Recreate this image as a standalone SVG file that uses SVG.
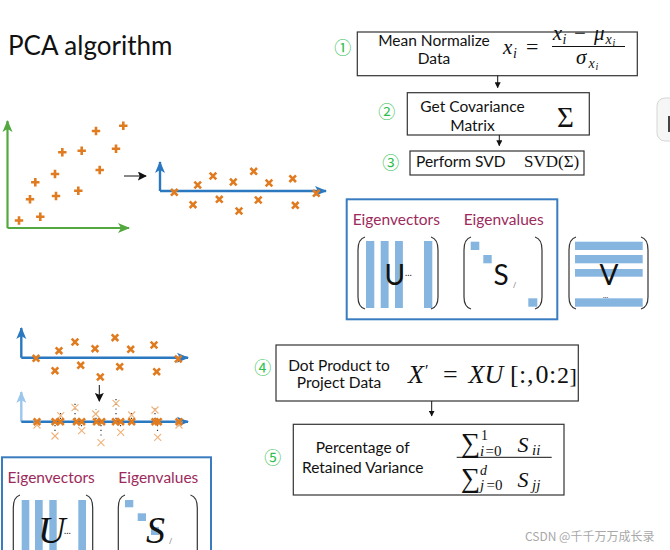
<svg xmlns="http://www.w3.org/2000/svg" xmlns:xlink="http://www.w3.org/1999/xlink" width="670" height="550" viewBox="0 0 670 550">
<style>
.lbl{font-family:Lato,"Open Sans","Liberation Sans",sans-serif;fill:#111;font-size:15.5px}
.eig{font-family:Lato,"Open Sans","Liberation Sans",sans-serif;fill:#9c2a5c;font-size:15.5px;text-anchor:middle}
.num{font-family:"Noto Sans CJK SC","DejaVu Sans",sans-serif;fill:#2fbf4f;font-size:17px;text-anchor:middle}
.m{font-family:"Liberation Serif","DejaVu Serif",serif;fill:#111}
.mi{font-family:"Liberation Serif","DejaVu Serif",serif;font-style:italic;fill:#111}
.box{fill:#fff;stroke:#333;stroke-width:1.2}
.bbox{fill:none;stroke:#3a7cc0;stroke-width:2}
.br{fill:none;stroke:#333;stroke-width:1.2}
.bar{fill:#86b5e0}
.conn{stroke:#111;stroke-width:1;fill:none}
.gax{stroke:#53a840;stroke-width:2.2;fill:none}
.bax{stroke:#2a78c0;stroke-width:2.4;fill:none}
.lax{stroke:#9cc6ec;stroke-width:2.4;fill:none}
.dot{stroke:#333;stroke-width:1.2;stroke-dasharray:1.2 3.5;fill:none}
</style>
<defs>
<marker id="ag" viewBox="0 0 12 12" markerWidth="12" markerHeight="12" refX="11" refY="6" orient="auto" markerUnits="userSpaceOnUse"><path d="M0,1 L12,6 L0,11 L3,6 z" fill="#53a840"/></marker>
<marker id="ab" viewBox="0 0 12 12" markerWidth="12" markerHeight="12" refX="11" refY="6" orient="auto" markerUnits="userSpaceOnUse"><path d="M0,1 L12,6 L0,11 L3,6 z" fill="#2a78c0"/></marker>
<marker id="al" viewBox="0 0 12 12" markerWidth="12" markerHeight="12" refX="11" refY="6" orient="auto" markerUnits="userSpaceOnUse"><path d="M0,1 L12,6 L0,11 L3,6 z" fill="#9cc6ec"/></marker>
<marker id="ak" viewBox="0 0 10 10" markerWidth="6" markerHeight="6" refX="9" refY="5" orient="auto" markerUnits="userSpaceOnUse"><path d="M0,0 L10,5 L0,10 z" fill="#111"/></marker>
<marker id="akb" viewBox="0 0 10 10" markerWidth="9" markerHeight="9" refX="9" refY="5" orient="auto" markerUnits="userSpaceOnUse"><path d="M0,0 L10,5 L0,10 L2,5 z" fill="#111"/></marker>
<path id="p" d="M-4.2 0H4.2M0-4.2V4.2" stroke="#e07b20" stroke-width="2.6"/>
<path id="x" d="M-3.3-3.3L3.3 3.3M-3.3 3.3L3.3-3.3" stroke="#e07b20" stroke-width="2.6"/>
<path id="xf" d="M-3.5-3.5L3.5 3.5M-3.5 3.5L3.5-3.5" stroke="#f0b27a" stroke-width="1.1"/>
</defs>

<rect width="670" height="550" fill="#fff"/>

<g id="title"><text class="lbl" x="8" y="55" style="font-size:26px">PCA algorithm</text></g>

<g id="ui-tab">
<rect x="657" y="98" width="30" height="43" rx="8" fill="#f6f6f6" stroke="#d6d6d6"/>
<rect x="668" y="116" width="2" height="16" fill="#444"/>
</g>

<g id="plot-original">
<path class="gax" d="M7.5 228V121" marker-end="url(#ag)"/>
<path class="gax" d="M7.5 228H129" marker-end="url(#ag)"/>
<use xlink:href="#p" x="19" y="220.5"/><use xlink:href="#p" x="40.3" y="216.7"/>
<use xlink:href="#p" x="30" y="199.3"/><use xlink:href="#p" x="56" y="196"/>
<use xlink:href="#p" x="78.3" y="190.7"/><use xlink:href="#p" x="35.3" y="182.3"/>
<use xlink:href="#p" x="55" y="174"/><use xlink:href="#p" x="99.7" y="170"/>
<use xlink:href="#p" x="62.3" y="152.3"/><use xlink:href="#p" x="81.7" y="150.7"/>
<use xlink:href="#p" x="116" y="148.7"/><use xlink:href="#p" x="96" y="131"/>
<use xlink:href="#p" x="123.3" y="125.7"/>
</g>

<g id="plot-normalized">
<path class="bax" d="M160 191V162" marker-end="url(#ab)"/>
<path class="bax" d="M160 191H326" marker-end="url(#ab)"/>
<use xlink:href="#x" x="174.3" y="192.3"/><use xlink:href="#x" x="197.7" y="185"/>
<use xlink:href="#x" x="213" y="176"/><use xlink:href="#x" x="233.3" y="182"/>
<use xlink:href="#x" x="253.7" y="171.3"/><use xlink:href="#x" x="269" y="183"/>
<use xlink:href="#x" x="292.7" y="178.7"/><use xlink:href="#x" x="316.3" y="193.3"/>
<use xlink:href="#x" x="193" y="204.7"/><use xlink:href="#x" x="219.3" y="199.3"/>
<use xlink:href="#x" x="239" y="211"/><use xlink:href="#x" x="258.3" y="200"/>
<use xlink:href="#x" x="295.3" y="205.3"/>
</g>

<g id="plot-before-projection">
<path class="bax" d="M21.3 357.7V328" marker-end="url(#ab)"/>
<path class="bax" d="M21.3 357.7H188" marker-end="url(#ab)"/>
<use xlink:href="#x" x="36" y="358.3"/><use xlink:href="#x" x="59" y="350.7"/>
<use xlink:href="#x" x="75" y="342"/><use xlink:href="#x" x="95" y="348.7"/>
<use xlink:href="#x" x="115" y="337.7"/><use xlink:href="#x" x="130.7" y="349.3"/>
<use xlink:href="#x" x="154" y="345"/><use xlink:href="#x" x="178.3" y="359"/>
<use xlink:href="#x" x="55" y="370.7"/><use xlink:href="#x" x="80.7" y="365.3"/>
<use xlink:href="#x" x="100.3" y="377"/><use xlink:href="#x" x="119.7" y="366.7"/>
<use xlink:href="#x" x="156.7" y="371.7"/>
</g>

<g id="plot-projected">
<path class="lax" d="M21.3 421.7V392" marker-end="url(#al)"/>
<path class="bax" d="M21.3 421.7H188" marker-end="url(#ab)"/>
<path class="dot" d="M60.5 419V411M75 419V403M96 419V409M116 419V398M131.5 419V411M155 419V405M55 425V432M81.5 425V427M101 425V439M120.5 425V428M157.5 425V433"/>
<use xlink:href="#xf" x="60.7" y="415.7"/><use xlink:href="#xf" x="75" y="407.7"/>
<use xlink:href="#xf" x="95.7" y="414"/><use xlink:href="#xf" x="116" y="403.3"/>
<use xlink:href="#xf" x="131.7" y="415"/><use xlink:href="#xf" x="155" y="410"/>
<use xlink:href="#xf" x="55" y="436"/><use xlink:href="#xf" x="81.7" y="430.7"/>
<use xlink:href="#xf" x="101" y="442.7"/><use xlink:href="#xf" x="120.7" y="432.3"/>
<use xlink:href="#xf" x="157.7" y="437.3"/><use xlink:href="#xf" x="37" y="425"/><use xlink:href="#xf" x="179" y="425"/>
<use xlink:href="#x" x="37" y="421.7"/><use xlink:href="#x" x="55" y="421.7"/>
<use xlink:href="#x" x="60.5" y="421.7"/><use xlink:href="#x" x="76.5" y="421.7"/>
<use xlink:href="#x" x="81.7" y="421.7"/><use xlink:href="#x" x="96.5" y="421.7"/>
<use xlink:href="#x" x="101.7" y="421.7"/><use xlink:href="#x" x="115.5" y="421.7"/>
<use xlink:href="#x" x="120.7" y="421.7"/><use xlink:href="#x" x="131.7" y="421.7"/>
<use xlink:href="#x" x="155" y="421.7"/><use xlink:href="#x" x="158.3" y="421.7"/>
<use xlink:href="#x" x="179" y="421.7"/>
</g>

<g id="step1">
<text class="num" x="342.7" y="54">①</text>
<rect class="box" x="357.3" y="32" width="280" height="43.7"/>
<text class="lbl" x="434" y="46" text-anchor="middle">Mean Normalize</text>
<text class="lbl" x="434" y="64" text-anchor="middle">Data</text>
<text class="mi" x="503" y="54" font-size="21">x</text>
<text class="mi" x="513" y="58" font-size="14">i</text>
<text class="m" x="526" y="54" font-size="22">=</text>
<text class="mi" x="552.7" y="40" font-size="21">x</text>
<text class="mi" x="562.5" y="44" font-size="14">i</text>
<text class="m" x="574" y="40" font-size="21">−</text>
<text class="mi" x="594" y="40" font-size="21">μ</text>
<text class="mi" x="605.5" y="43.5" font-size="14">x</text>
<text class="mi" x="612.5" y="46" font-size="10">i</text>
<path d="M552 46.5H625" stroke="#111" stroke-width="1"/>
<text class="mi" x="576" y="64" font-size="21">σ</text>
<text class="mi" x="588.5" y="67.5" font-size="14">x</text>
<text class="mi" x="595.5" y="70" font-size="10">i</text>
</g>

<g id="step2">
<text class="num" x="386.7" y="118">②</text>
<rect class="box" x="407.3" y="92.7" width="182" height="42.3"/>
<text class="lbl" x="472.5" y="112.3" text-anchor="middle">Get Covariance</text>
<text class="lbl" x="472.5" y="131" text-anchor="middle">Matrix</text>
<text class="m" x="557" y="126.7" font-size="29">Σ</text>
</g>

<g id="step3">
<text class="num" x="390.7" y="169">③</text>
<rect class="box" x="410" y="151" width="174" height="24"/>
<text class="lbl" x="416" y="167">Perform SVD</text>
<text class="m" x="524" y="166.7" font-size="17">SVD(Σ)</text>
</g>

<g id="svd-result">
<rect class="bbox" x="346.7" y="199.3" width="210.6" height="120"/>
<text class="eig" x="396.3" y="225.3">Eigenvectors</text>
<text class="eig" x="503.7" y="225.3">Eigenvalues</text>
<path class="br" d="M365 237Q358 239 358 250V297Q358 307 365 309M431 237Q438 239 438 250V297Q438 307 431 309"/>
<rect class="bar" x="366" y="241" width="8.3" height="67"/>
<rect class="bar" x="380.7" y="241" width="7.9" height="67"/>
<rect class="bar" x="395" y="241" width="7.9" height="67"/>
<rect class="bar" x="424" y="241" width="8.3" height="67"/>
<text class="lbl" x="384.5" y="285" style="font-size:28px">U</text>
<text class="lbl" x="405" y="276" style="font-size:9px">…</text>
<path class="br" d="M471 237Q464 239 464 250V297Q464 307 471 309M535 237Q542 239 542 250V297Q542 307 535 309"/>
<rect class="bar" x="470.7" y="241.7" width="8.6" height="8.3"/>
<rect class="bar" x="483.3" y="255" width="8.4" height="8.3"/>
<rect class="bar" x="528.3" y="298.3" width="9" height="8.4"/>
<text class="lbl" x="493.5" y="285" style="font-size:28px">S</text>
<text class="lbl" x="513" y="288" style="font-size:7px;fill:#555">/</text>
<path class="br" d="M576 237Q569 239 569 250V297Q569 307 576 309M641 237Q648 239 648 250V297Q648 307 641 309"/>
<rect class="bar" x="575" y="241.7" width="67.7" height="8.3"/>
<rect class="bar" x="575" y="255" width="67.7" height="8.3"/>
<rect class="bar" x="575" y="269" width="67.7" height="7.7"/>
<rect class="bar" x="575" y="298.3" width="67.7" height="8.4"/>
<text class="lbl" x="599.5" y="285" style="font-size:28px">V</text>
<text class="lbl" x="603" y="298" style="font-size:7px">…</text>
</g>

<g id="step4">
<text class="num" x="262.7" y="374">④</text>
<rect class="box" x="276" y="345" width="302.3" height="56"/>
<text class="lbl" x="339" y="370.7" text-anchor="middle">Dot Product to</text>
<text class="lbl" x="339" y="388.3" text-anchor="middle">Project Data</text>
<text class="mi" x="408" y="383.3" font-size="26">X</text>
<text class="m" x="425" y="376" font-size="16">′</text>
<text class="m" x="443" y="383.3" font-size="26">=</text>
<text class="mi" x="468.5" y="383.3" font-size="26">XU</text>
<text class="m" x="510" y="383.3" font-size="26">[</text>
<text class="m" x="519" y="383.3" font-size="26">:</text>
<text class="m" x="527" y="383.3" font-size="26">,</text>
<text class="m" x="535.5" y="383.3" font-size="26">0</text>
<text class="m" x="549" y="383.3" font-size="26">:</text>
<text class="m" x="557" y="383.3" font-size="24">2</text>
<text class="m" x="569.5" y="383.3" font-size="22">]</text>
</g>

<g id="step5">
<text class="num" x="272.7" y="464">⑤</text>
<rect class="box" x="293.3" y="424.3" width="270.7" height="70.7"/>
<text class="lbl" x="362.7" y="453.3" text-anchor="middle">Percentage of</text>
<text class="lbl" x="362.7" y="472.7" text-anchor="middle">Retained Variance</text>
<text class="m" x="461" y="452" font-size="27">∑</text>
<text class="m" x="481" y="440" font-size="14">1</text>
<text class="mi" x="480" y="455.5" font-size="15">i</text><text class="m" x="485.5" y="455.5" font-size="15">=0</text>
<text class="mi" x="517.5" y="451.7" font-size="22">S</text>
<text class="mi" x="532" y="455" font-size="15">ii</text>
<path d="M456.7 457.3H551.7" stroke="#111" stroke-width="1"/>
<text class="m" x="461" y="486.5" font-size="27">∑</text>
<text class="mi" x="480" y="475" font-size="14">d</text>
<text class="mi" x="480" y="490" font-size="15">j</text><text class="m" x="486.5" y="490" font-size="15">=0</text>
<text class="mi" x="517.5" y="486.7" font-size="22">S</text>
<text class="mi" x="532" y="490" font-size="15">jj</text>
</g>

<g id="eigen-bottom">
<rect class="bbox" x="2" y="457.3" width="209" height="110"/>
<text class="eig" x="51.2" y="483.3">Eigenvectors</text>
<text class="eig" x="158.3" y="483.3">Eigenvalues</text>
<path class="br" d="M20 495Q13.3 497 13.3 508V560M86 495Q92.7 497 92.7 508V560"/>
<rect class="bar" x="21.7" y="500" width="7.6" height="55"/>
<rect class="bar" x="35" y="500" width="7.7" height="55"/>
<rect class="bar" x="49.3" y="500" width="7.4" height="55"/>
<rect class="bar" x="78.3" y="500" width="7.7" height="55"/>
<text class="mi" x="38" y="543" font-size="38">U</text>
<text class="lbl" x="64" y="534" style="font-size:9px">…</text>
<path class="br" d="M125 495Q118.3 497 118.3 508V560M190.5 495Q197.3 497 197.3 508V560"/>
<rect class="bar" x="125" y="500" width="8.3" height="7.3"/>
<rect class="bar" x="137.7" y="513.3" width="8.3" height="7.7"/>
<rect class="bar" x="151" y="527" width="8" height="8"/>
<text class="mi" x="146" y="543" font-size="38">S</text>
<text class="lbl" x="169" y="544" style="font-size:7px;fill:#555">/</text>
</g>

<g id="connectors">
<path class="conn" d="M497.7 75.7V87.7" marker-end="url(#ak)"/>
<path class="conn" d="M499.3 135V145.7" marker-end="url(#ak)"/>
<path class="conn" d="M431.7 401V416" marker-end="url(#ak)"/>
<path class="conn" d="M124 176H146" stroke-width="1.8" marker-end="url(#akb)"/>
<path class="conn" d="M99.3 385V401" stroke-width="1.8" marker-end="url(#akb)"/>
</g>

<g id="watermark"><text x="525" y="541" style="font-family:'Noto Sans CJK SC','Noto Sans',sans-serif;font-size:12px;fill:#a8a8a8">CSDN @千千万万成长录</text></g>
</svg>
